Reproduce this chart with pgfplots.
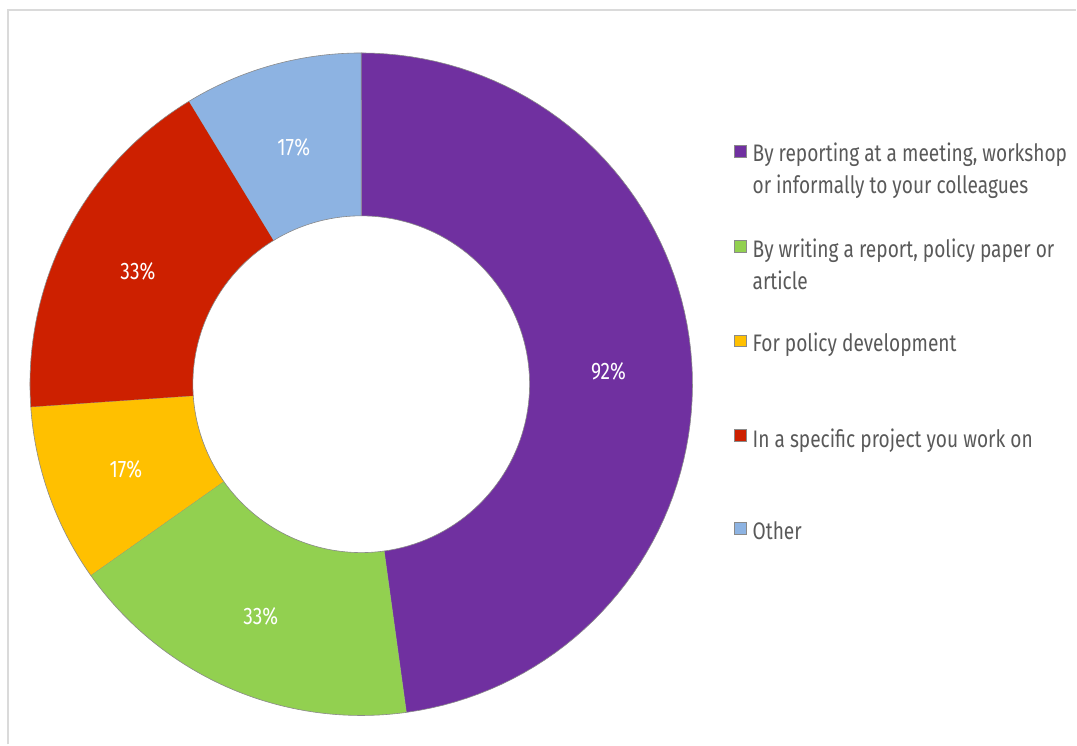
\documentclass[border=0pt]{standalone}
\usepackage{fontspec}
\setmainfont[FakeStretch=0.80]{Fira Sans}
\usepackage{pgfplots}
\usepackage{pgfplotstable}
\pgfplotsset{compat=1.18}
\definecolor{cpurple}{HTML}{7030A0}
\definecolor{cgreen}{HTML}{92D050}
\definecolor{cyellow}{HTML}{FFC000}
\definecolor{cred}{HTML}{CD2000}
\definecolor{cblue}{HTML}{8DB3E2}
\definecolor{sgray}{HTML}{8A8A8A}
\definecolor{ltext}{HTML}{595959}
\definecolor{frame}{HTML}{DADADA}

% slice sizes (responses) and printed percentages
\pgfplotstableread{
id value pct
0 11 92
1 4 33
2 2 17
3 4 33
4 2 17
}\slices

\pgfplotstablegetelem{0}{value}\of\slices \let\vA\pgfplotsretval
\pgfplotstablegetelem{1}{value}\of\slices \let\vB\pgfplotsretval
\pgfplotstablegetelem{2}{value}\of\slices \let\vC\pgfplotsretval
\pgfplotstablegetelem{3}{value}\of\slices \let\vD\pgfplotsretval
\pgfplotstablegetelem{4}{value}\of\slices \let\vE\pgfplotsretval
\pgfmathsetmacro\tot{\vA+\vB+\vC+\vD+\vE}
\pgfmathsetmacro\aA{90}
\pgfmathsetmacro\aB{90-360*(\vA)/\tot}
\pgfmathsetmacro\aC{90-360*(\vA+\vB)/\tot}
\pgfmathsetmacro\aD{90-360*(\vA+\vB+\vC)/\tot}
\pgfmathsetmacro\aE{90-360*(\vA+\vB+\vC+\vD)/\tot}
\pgfmathsetmacro\aF{90-360}

\def\cx{361.5}
\def\cy{360.5}
\def\Ro{331.5}
\def\Ri{168.5}

\newcommand{\donutslice}[3]{%
  \addplot[fill=#3, draw=sgray, line width=0.6pt, samples at={0,...,161}, variable=\t]
  ({\cx + (\t<80.5 ? \Ro : \Ri)*cos(\t<80.5 ? (#1 + (#2-(#1))*\t/80) : (#2 - (#2-(#1))*(\t-81)/80))},
   {\cy + (\t<80.5 ? \Ro : \Ri)*sin(\t<80.5 ? (#1 + (#2-(#1))*\t/80) : (#2 - (#2-(#1))*(\t-81)/80))});
}

\begin{document}
\begin{tikzpicture}
\begin{axis}[
  width=1077bp, height=745bp, scale only axis,
  xmin=0, xmax=1077, ymin=0, ymax=745,
  axis lines=none, clip=false,
]
\path (axis cs:0,0) rectangle (axis cs:1077,745);
\draw[frame, line width=1.6pt] (axis cs:8,0) -- (axis cs:8,735) -- (axis cs:1077,735);

\donutslice{\aA}{\aB}{cpurple}
\donutslice{\aB}{\aC}{cgreen}
\donutslice{\aC}{\aD}{cyellow}
\donutslice{\aD}{\aE}{cred}
\donutslice{\aE}{\aF}{cblue}

\begin{scope}[every node/.style={text=white, font=\fontsize{24}{30}\selectfont}]
\node at (axis cs:609,373) {92\%};
\node at (axis cs:261,128) {33\%};
\node at (axis cs:126,275) {17\%};
\node at (axis cs:138,473) {33\%};
\node at (axis cs:294,598) {17\%};
\end{scope}

\begin{scope}[every node/.style={text=ltext, anchor=base west, inner sep=0pt, font=\fontsize{24}{30}\selectfont}]
\fill[cpurple, draw=sgray, line width=0.5pt] (axis cs:735,600) rectangle (axis cs:747,588);
\node at (axis cs:753,583) {By reporting at a meeting, workshop};
\node at (axis cs:753,551) {or informally to your colleagues};
\fill[cgreen, draw=sgray, line width=0.5pt] (axis cs:735,505) rectangle (axis cs:747,493);
\node at (axis cs:753,487) {By writing a report, policy paper or};
\node at (axis cs:753,455) {article};
\fill[cyellow, draw=sgray, line width=0.5pt] (axis cs:735,410) rectangle (axis cs:747,398);
\node at (axis cs:753,393) {For policy development};
\fill[cred, draw=sgray, line width=0.5pt] (axis cs:735,315) rectangle (axis cs:747,303);
\node at (axis cs:753,297) {In a specific project you work on};
\fill[cblue, draw=sgray, line width=0.5pt] (axis cs:735,222) rectangle (axis cs:747,210);
\node at (axis cs:753,205) {Other};
\end{scope}
\end{axis}
\end{tikzpicture}
\end{document}
